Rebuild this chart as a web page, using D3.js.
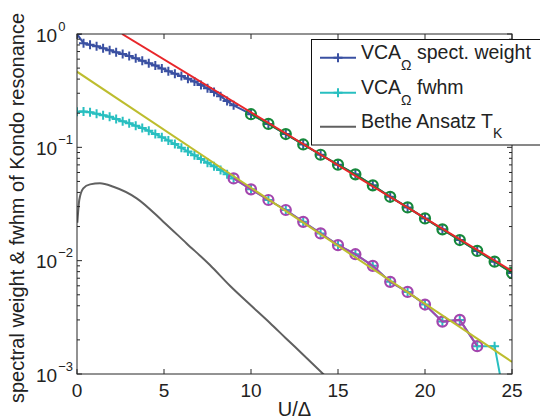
<!DOCTYPE html>
<html>
<head>
<meta charset="utf-8">
<script src="https://cdn.jsdelivr.net/npm/d3@7"></script>
<style>
  body { margin: 0; background: #fff; }
  svg { display: block; font-family: "Liberation Sans", Arial, sans-serif; }
</style>
</head>
<body>
<div id="chart"></div>
<script>
// U/Delta sample points (fine steps up to 9, then integers)
const uValues = [0, 0.375, 0.75, 1.125, 1.5, 1.875, 2.25, 2.625, 3, 3.375, 3.75, 4.125, 4.5, 4.875,
  5.25, 5.625, 6, 6.375, 6.75, 7.125, 7.5, 7.875, 8.25, 8.625,
  9, 10, 11, 12, 13, 14, 15, 16, 17, 18, 19, 20, 21, 22, 23, 24, 25];
const spectWeight = [1.0, 0.83, 0.805, 0.78, 0.75, 0.72, 0.69, 0.665, 0.64, 0.61, 0.58, 0.553, 0.527, 0.497,
  0.47, 0.447, 0.425, 0.403, 0.38, 0.355, 0.332, 0.307, 0.283, 0.256,
  0.235, 0.196, 0.161, 0.131, 0.106, 0.086, 0.0703, 0.0578, 0.0462, 0.0366, 0.0295, 0.0236, 0.0189, 0.0152, 0.0122, 0.0098, 0.0078];
const fwhm = [0.206, 0.207, 0.204, 0.198, 0.192, 0.186, 0.178, 0.170, 0.163, 0.155, 0.148, 0.140, 0.131, 0.123,
  0.115, 0.107, 0.099, 0.092, 0.085, 0.079, 0.073, 0.068, 0.063, 0.058,
  0.0532, 0.0426, 0.0343, 0.028, 0.022, 0.0174, 0.0137, 0.0114, 0.0090, 0.0065, 0.0053, 0.0041, 0.0029, 0.0030, 0.00176, 0.00176, 0.00027];

// exponential fits (straight lines on log scale)
const weightFitU = [2.59, 25];
const weightFitY = [1.0, 0.0081];
const fwhmFitU = [0, 25];
const fwhmFitY = [0.465, 0.00128];

// Bethe Ansatz T_K
const tkU = [0.02, 0.13, 0.36, 0.75, 1.32, 2.09, 3.43, 4.96, 6.3, 7.64, 8.79, 9.94, 11.09, 12, 13, 14.3];
const tkY = [0.0216, 0.0343, 0.0435, 0.0471, 0.0481, 0.0449, 0.0355, 0.0221, 0.0142, 0.00915, 0.006, 0.0041, 0.00282, 0.00207, 0.00148, 0.00095];

const xTicks = [0, 5, 10, 15, 20, 25];
const yExps = [0, -1, -2, -3];

const colors = {
  weight: "#3a50a2", fwhm: "#28bfc0", red: "#e8262a", olive: "#bdbd2e",
  green: "#15883a", purple: "#a446ae", grey: "#606060", axis: "#262626"
};

const W = 540, H = 420;
const margin = { top: 34, right: 28, bottom: 46, left: 77 };

const svg = d3.select("#chart").append("svg").attr("width", W).attr("height", H);
svg.append("rect").attr("width", W).attr("height", H).attr("fill", "#fff");

const x = d3.scaleLinear([0, 25], [margin.left, W - margin.right]);
const y = d3.scaleLog([1e-3, 1], [H - margin.bottom, margin.top]);

svg.append("defs").append("clipPath").attr("id", "plot")
  .append("rect")
  .attr("x", x(0)).attr("y", y(1))
  .attr("width", x(25) - x(0)).attr("height", y(1e-3) - y(1));

const plot = svg.append("g").attr("clip-path", "url(#plot)");

const zip = (us, vs) => us.map((u, i) => ({ u, v: vs[i] }));
const line = d3.line().x(d => x(d.u)).y(d => y(d.v));
const smooth = d3.line().x(d => x(d.u)).y(d => y(d.v)).curve(d3.curveMonotoneX);

const weightData = zip(uValues, spectWeight);
const fwhmData = zip(uValues, fwhm);
const greenData = weightData.filter(d => d.u >= 10);
const purpleData = fwhmData.filter(d => d.u >= 9 && d.u <= 23);

function plusPath(size) {
  return `M${-size},0H${size}M0,${-size}V${size}`;
}

// grey Bethe Ansatz
plot.append("path").attr("d", smooth(zip(tkU, tkY)))
  .attr("fill", "none").attr("stroke", colors.grey).attr("stroke-width", 2);

// data lines
[[weightData, colors.weight], [fwhmData, colors.fwhm]].forEach(([data, c]) => {
  plot.append("path").attr("d", line(data))
    .attr("fill", "none").attr("stroke", c).attr("stroke-width", 2);
  plot.selectAll(null).data(data).join("path")
    .attr("transform", d => `translate(${x(d.u)},${y(d.v)})`)
    .attr("d", plusPath(4.5))
    .attr("stroke", c).attr("stroke-width", 2).attr("fill", "none");
});

// fitted points with circles
[[greenData, colors.green], [purpleData, colors.purple]].forEach(([data, c]) => {
  plot.append("path").attr("d", line(data))
    .attr("fill", "none").attr("stroke", c).attr("stroke-width", 2);
  plot.selectAll(null).data(data).join("circle")
    .attr("cx", d => x(d.u)).attr("cy", d => y(d.v)).attr("r", 5)
    .attr("fill", "none").attr("stroke", c).attr("stroke-width", 2.2);
});

// fit lines
plot.append("path").attr("d", line(zip(weightFitU, weightFitY)))
  .attr("fill", "none").attr("stroke", colors.red).attr("stroke-width", 2);
plot.append("path").attr("d", line(zip(fwhmFitU, fwhmFitY)))
  .attr("fill", "none").attr("stroke", colors.olive).attr("stroke-width", 2);

// axes box
const minor = [];
for (let e = -3; e < 0; e++) for (let m = 2; m <= 9; m++) minor.push(m * Math.pow(10, e));

const axisG = svg.append("g").attr("stroke", colors.axis).attr("fill", "none");
axisG.append("rect")
  .attr("x", x(0)).attr("y", y(1))
  .attr("width", x(25) - x(0)).attr("height", y(1e-3) - y(1))
  .attr("stroke-width", 1);

xTicks.forEach(t => {
  axisG.append("line").attr("x1", x(t)).attr("x2", x(t)).attr("y1", y(1e-3)).attr("y2", y(1e-3) - 5);
  axisG.append("line").attr("x1", x(t)).attr("x2", x(t)).attr("y1", y(1)).attr("y2", y(1) + 5);
});
yExps.forEach(e => {
  const v = Math.pow(10, e);
  axisG.append("line").attr("x1", x(0)).attr("x2", x(0) + 5).attr("y1", y(v)).attr("y2", y(v));
  axisG.append("line").attr("x1", x(25)).attr("x2", x(25) - 5).attr("y1", y(v)).attr("y2", y(v));
});
minor.forEach(v => {
  axisG.append("line").attr("x1", x(0)).attr("x2", x(0) + 3).attr("y1", y(v)).attr("y2", y(v));
  axisG.append("line").attr("x1", x(25)).attr("x2", x(25) - 3).attr("y1", y(v)).attr("y2", y(v));
});

// tick labels
const txt = svg.append("g").attr("fill", "#222");
txt.selectAll(null).data(xTicks).join("text")
  .attr("x", d => x(d)).attr("y", y(1e-3) + 23)
  .attr("text-anchor", "middle").attr("font-size", 19)
  .text(d => d);

yExps.forEach(e => {
  const t = txt.append("text")
    .attr("x", 36).attr("y", y(Math.pow(10, e)) + 7.5)
    .attr("font-size", 19);
  t.append("tspan").text("10");
  t.append("tspan").attr("dy", -11).attr("dx", 1).attr("font-size", 13)
    .text(e === 0 ? "0" : "\u2212" + Math.abs(e));
});

// axis labels
txt.append("text")
  .attr("x", (x(0) + x(25)) / 2).attr("y", 416)
  .attr("text-anchor", "middle").attr("font-size", 20)
  .text("U/\u0394");
txt.append("text")
  .attr("transform", `translate(24,${(y(1) + y(1e-3)) / 2 + 4}) rotate(-90)`)
  .attr("text-anchor", "middle").attr("font-size", 20)
  .text("spectral weight & fwhm of Kondo resonance");

// legend
const legendItems = [
  { name: "VCA", sub: "\u03a9", rest: " spect. weight", color: colors.weight, marker: true },
  { name: "VCA", sub: "\u03a9", rest: " fwhm", color: colors.fwhm, marker: true },
  { name: "Bethe Ansatz T", sub: "K", rest: "", color: colors.grey, marker: false }
];
const legend = svg.append("g");
legend.append("rect")
  .attr("x", 311.5).attr("y", 39.5).attr("width", 240).attr("height", 105.5)
  .attr("fill", "#fff").attr("stroke", "#111").attr("stroke-width", 1);
const rowY = [57.7, 92.7, 126.7];
legendItems.forEach((it, i) => {
  const g = legend.append("g").attr("transform", `translate(0,${rowY[i]})`);
  g.append("line").attr("x1", 320).attr("x2", 356)
    .attr("stroke", it.color).attr("stroke-width", 2);
  if (it.marker) {
    g.append("path").attr("transform", "translate(338,0)").attr("d", plusPath(4.5))
      .attr("stroke", it.color).attr("stroke-width", 2);
  }
  const t = g.append("text").attr("x", 361).attr("y", 1.6)
    .attr("font-size", 19.5).attr("fill", "#222");
  t.append("tspan").text(it.name);
  t.append("tspan").attr("dy", it.sub === "K" ? 10 : 11).attr("font-size", 14).text(it.sub);
  if (it.rest) t.append("tspan").attr("dy", it.sub === "K" ? -10 : -11).text(it.rest);
});
</script>
</body>
</html>
